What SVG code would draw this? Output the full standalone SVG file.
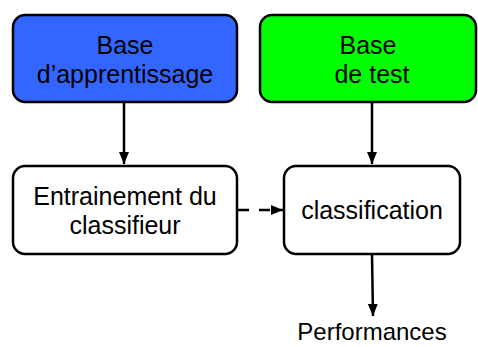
<svg xmlns="http://www.w3.org/2000/svg" width="478" height="347" viewBox="0 0 478 347">
<style>
.box{stroke:#000;stroke-width:2.5}
.t{font-family:"Liberation Sans",Arial,sans-serif;font-size:25px;fill:#000;text-anchor:middle}
.c{stroke:#000;stroke-width:2.5;fill:none}
</style>
<defs>
<marker id="ah" markerWidth="12" markerHeight="12" viewBox="0 0 12 12" refX="12" refY="6" orient="auto" markerUnits="userSpaceOnUse">
<path d="M0,1 L12,6 L0,11 Z" fill="#000"/>
</marker>
</defs>
<rect width="478" height="347" fill="#fff"/>
<g id="base-apprentissage">
<rect class="box" x="13" y="15" width="224" height="87" rx="12" fill="#3366FF"/>
<text class="t" x="125" y="54">Base</text>
<text class="t" x="125" y="83">d’apprentissage</text>
</g>
<g id="base-test">
<rect class="box" x="260" y="15" width="216" height="87" rx="12" fill="#00FF00"/>
<text class="t" x="368" y="54">Base</text>
<text class="t" x="372" y="83">de test</text>
</g>
<g id="entrainement">
<rect class="box" x="13" y="166" width="224" height="88" rx="12" fill="#fff"/>
<text class="t" x="125" y="205">Entrainement du</text>
<text class="t" x="125" y="234">classifieur</text>
</g>
<g id="classification">
<rect class="box" x="284" y="166" width="176" height="88" rx="12" fill="#fff"/>
<text class="t" x="372" y="219">classification</text>
</g>
<g id="performances">
<text class="t" x="372" y="340" style="font-size:24px">Performances</text>
</g>
<g id="connectors">
<line class="c" x1="124" y1="103" x2="124" y2="164" marker-end="url(#ah)"/>
<line class="c" x1="372" y1="103" x2="372" y2="164" marker-end="url(#ah)"/>
<line class="c" x1="238" y1="210" x2="283" y2="210" stroke-dasharray="11,10" marker-end="url(#ah)"/>
<line class="c" x1="372" y1="255" x2="373" y2="316" marker-end="url(#ah)"/>
</g>
</svg>
